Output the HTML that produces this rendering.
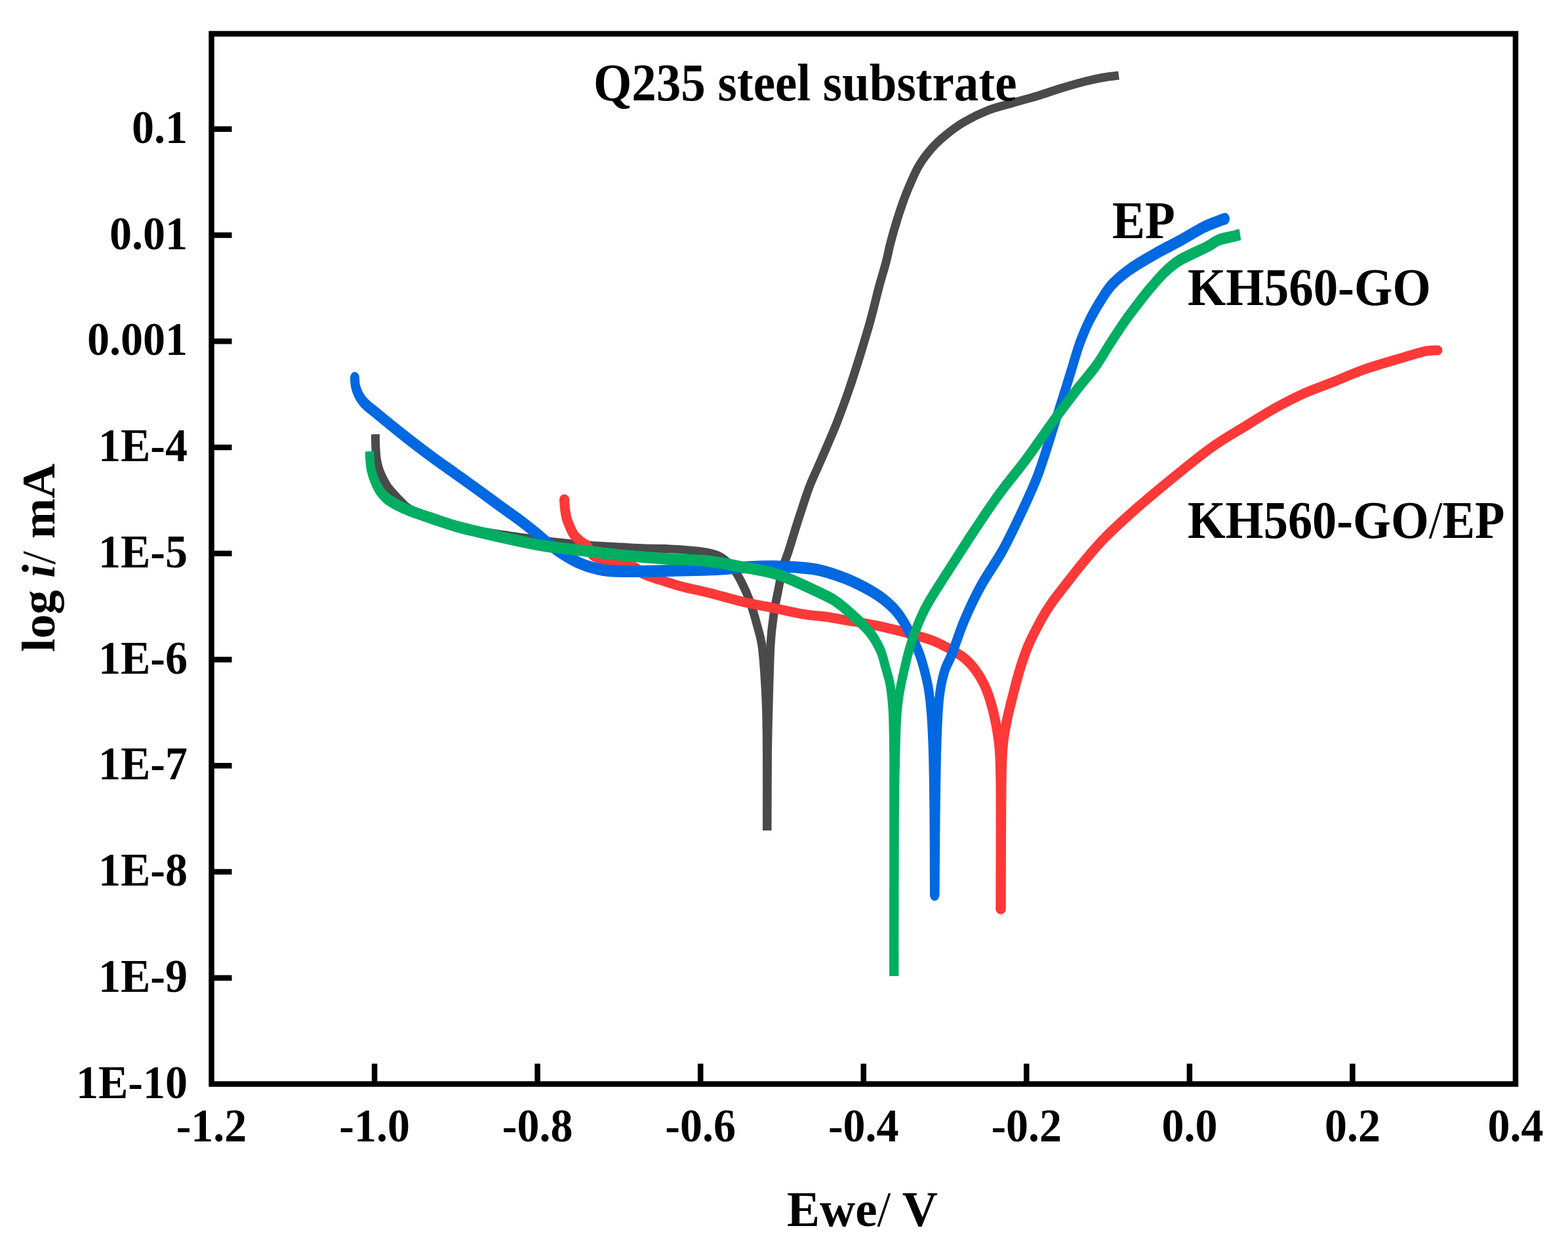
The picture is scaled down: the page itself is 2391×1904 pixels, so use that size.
<!DOCTYPE html>
<html><head><meta charset="utf-8"><title>Polarization curves</title>
<style>html,body{margin:0;padding:0;background:#fff;}body{width:2391px;height:1904px;overflow:hidden;}svg{display:block;}</style>
</head><body>
<svg xmlns="http://www.w3.org/2000/svg" width="2391" height="1904" viewBox="0 0 2391 1904">
<rect width="2391" height="1904" fill="#fff"/>
<path d="M572.4,662.0 C572.5,665.0 572.5,674.2 572.8,680.0 C573.1,685.8 573.3,691.7 574.0,697.0 C574.7,702.3 575.8,707.6 577.0,712.0 C578.2,716.4 579.1,718.8 581.2,723.5 C583.4,728.2 586.6,735.0 589.9,740.0 C593.2,745.0 597.3,749.3 601.0,753.5 C604.7,757.7 608.0,761.2 612.0,765.0 C616.0,768.8 617.0,772.0 625.0,776.0 C633.0,780.0 648.3,784.9 660.0,789.0 C671.7,793.1 683.3,797.2 695.0,800.5 C706.7,803.8 718.3,806.6 730.0,809.0 C741.7,811.4 753.3,813.2 765.0,815.0 C776.7,816.8 787.0,818.2 800.0,820.0 C813.0,821.8 826.2,824.1 843.0,826.0 C859.8,827.9 883.7,830.2 901.0,831.5 C918.3,832.8 933.3,833.2 947.0,834.0 C960.7,834.8 971.5,835.6 983.0,836.0 C994.5,836.4 1002.7,835.8 1016.0,836.5 C1029.3,837.2 1049.8,838.2 1063.0,840.0 C1076.2,841.8 1086.2,843.0 1095.0,847.0 C1103.8,851.0 1110.0,857.2 1116.0,864.0 C1122.0,870.8 1126.3,879.0 1131.0,888.0 C1135.7,897.0 1140.0,906.8 1144.0,918.0 C1148.0,929.2 1152.0,943.8 1155.0,955.0 C1158.0,966.2 1160.2,972.5 1162.0,985.0 C1163.8,997.5 1164.9,1014.2 1166.0,1030.0 C1167.1,1045.8 1167.9,1060.0 1168.5,1080.0 C1169.1,1100.0 1169.3,1119.0 1169.5,1150.0 C1169.7,1181.0 1169.5,1246.7 1169.5,1266.0" fill="none" stroke="#4a4a4a" stroke-width="13" stroke-linejoin="round" stroke-linecap="butt"/>
<path d="M1170.0,1266.0 C1170.1,1246.7 1170.2,1181.7 1170.5,1150.0 C1170.8,1118.3 1171.2,1103.8 1172.0,1076.0 C1172.8,1048.2 1173.7,1006.3 1175.0,983.0 C1176.3,959.7 1178.1,949.7 1180.0,936.0 C1181.9,922.3 1184.2,912.6 1186.5,901.0 C1188.8,889.4 1190.8,876.9 1193.5,866.5 C1196.2,856.1 1199.8,848.6 1203.0,838.5 C1206.2,828.4 1209.7,816.6 1213.0,806.0 C1216.3,795.4 1219.3,786.0 1223.0,775.0 C1226.7,764.0 1230.1,752.5 1235.0,740.0 C1239.9,727.5 1245.7,715.9 1252.5,700.0 C1259.3,684.1 1268.9,662.6 1276.0,644.6 C1283.1,626.6 1289.3,609.4 1295.3,592.0 C1301.3,574.6 1306.6,557.5 1312.0,540.0 C1317.4,522.5 1322.9,504.5 1327.7,487.0 C1332.5,469.5 1337.1,449.5 1341.0,435.0 C1344.9,420.5 1348.2,410.8 1351.0,400.0 C1353.8,389.2 1355.2,380.8 1358.0,370.0 C1360.8,359.2 1364.8,345.3 1368.0,335.0 C1371.2,324.7 1374.0,316.3 1377.0,308.0 C1380.0,299.7 1382.0,294.2 1386.0,285.0 C1390.0,275.8 1395.3,262.7 1401.0,253.0 C1406.7,243.3 1413.2,234.8 1420.0,227.0 C1426.8,219.2 1433.7,212.8 1442.0,206.0 C1450.3,199.2 1459.2,192.3 1470.0,186.0 C1480.8,179.7 1494.7,172.8 1507.0,168.0 C1519.3,163.2 1531.7,160.6 1544.0,157.0 C1556.3,153.4 1568.7,150.2 1581.0,146.5 C1593.3,142.8 1605.7,138.2 1618.0,134.5 C1630.3,130.8 1644.2,126.8 1655.0,124.0 C1665.8,121.2 1674.5,119.5 1683.0,118.0 C1691.5,116.5 1702.2,115.5 1706.0,115.0" fill="none" stroke="#4a4a4a" stroke-width="13" stroke-linejoin="round" stroke-linecap="butt"/>
<path d="M860.5,761.0 C860.7,763.3 860.9,770.2 861.5,775.0 C862.1,779.8 863.0,786.0 864.0,790.0 C865.0,794.0 865.7,795.0 867.4,799.0 C869.1,803.0 871.5,809.7 874.4,814.0 C877.3,818.3 881.3,821.8 884.8,824.8 C888.3,827.8 891.8,828.1 895.3,832.0 C898.8,835.9 900.5,844.2 906.0,848.0 C911.5,851.8 920.4,852.5 928.5,854.5 C936.6,856.5 947.8,857.9 954.7,859.8 C961.6,861.7 965.6,863.5 970.0,866.0 C974.4,868.5 974.8,872.0 981.0,875.0 C987.2,878.0 996.8,880.9 1007.0,884.2 C1017.2,887.5 1029.8,891.5 1042.0,894.7 C1054.2,897.9 1064.8,899.7 1080.0,903.5 C1095.2,907.3 1116.3,913.6 1133.0,917.5 C1149.7,921.4 1164.5,923.9 1180.0,927.0 C1195.5,930.1 1213.0,934.2 1226.0,936.4 C1239.0,938.6 1247.3,938.5 1258.0,940.0 C1268.7,941.5 1280.5,943.9 1290.0,945.5 C1299.5,947.1 1305.0,947.8 1315.0,949.6 C1325.0,951.5 1338.3,954.0 1350.0,956.6 C1361.7,959.2 1373.3,962.1 1385.0,965.3 C1396.7,968.5 1409.8,972.0 1420.0,975.8 C1430.2,979.6 1437.8,983.6 1446.0,988.0 C1454.2,992.4 1462.3,996.8 1469.0,1002.0 C1475.7,1007.2 1480.8,1012.8 1486.0,1019.5 C1491.2,1026.2 1496.0,1033.9 1500.0,1042.0 C1504.0,1050.1 1507.0,1058.3 1510.0,1068.0 C1513.0,1077.7 1515.7,1088.0 1518.0,1100.0 C1520.3,1112.0 1522.7,1123.3 1524.0,1140.0 C1525.3,1156.7 1525.7,1159.0 1526.0,1200.0 C1526.3,1241.0 1526.0,1355.0 1526.0,1386.0" fill="none" stroke="#ff3838" stroke-width="15" stroke-linejoin="round" stroke-linecap="round"/>
<path d="M1526.0,1386.0 C1526.2,1355.0 1526.5,1241.0 1527.0,1200.0 C1527.5,1159.0 1527.7,1156.7 1529.0,1140.0 C1530.3,1123.3 1532.4,1113.3 1535.0,1100.0 C1537.6,1086.7 1541.2,1073.2 1544.5,1060.0 C1547.8,1046.8 1551.1,1033.7 1555.0,1021.0 C1558.9,1008.3 1562.6,996.7 1568.0,984.0 C1573.4,971.3 1581.7,955.7 1587.5,945.0 C1593.3,934.3 1597.2,928.3 1603.0,920.0 C1608.8,911.7 1613.8,905.5 1622.0,895.0 C1630.2,884.5 1641.3,869.8 1652.0,857.0 C1662.7,844.2 1671.8,832.8 1686.0,818.5 C1700.2,804.2 1719.4,786.9 1737.0,771.5 C1754.6,756.1 1772.8,741.1 1791.5,726.0 C1810.2,710.9 1830.9,693.8 1849.0,681.0 C1867.1,668.2 1884.1,658.8 1900.0,649.0 C1915.9,639.2 1929.7,630.2 1944.5,622.0 C1959.3,613.8 1974.2,606.2 1989.0,599.5 C2003.8,592.8 2018.8,587.9 2033.6,582.0 C2048.4,576.1 2063.2,569.3 2078.0,564.0 C2092.8,558.7 2107.7,554.5 2122.6,550.0 C2137.5,545.5 2157.6,539.6 2167.2,537.0 C2176.8,534.4 2175.9,535.0 2180.0,534.5 C2184.1,534.0 2190.0,534.1 2192.0,534.0" fill="none" stroke="#ff3838" stroke-width="15" stroke-linejoin="round" stroke-linecap="round"/>
<g transform="scale(0.7800,1)"><path d="M693.6,576.0 C693.8,578.0 693.8,584.0 694.9,588.0 C695.9,592.0 697.9,596.3 700.0,600.0 C702.1,603.7 704.7,606.9 707.7,610.0 C710.7,613.1 713.5,615.3 717.9,618.5 C722.4,621.7 728.2,624.9 734.6,629.0 C741.0,633.1 745.3,636.0 756.4,643.0 C767.5,650.0 786.3,661.9 801.3,671.0 C816.2,680.1 831.2,688.9 846.2,697.5 C861.1,706.1 876.1,714.2 891.0,722.5 C906.0,730.8 921.6,739.4 935.9,747.5 C950.2,755.6 964.1,763.8 976.9,771.0 C989.7,778.2 1001.5,784.4 1012.8,791.0 C1024.1,797.6 1032.1,802.5 1044.9,810.5 C1057.7,818.5 1074.8,830.9 1089.7,839.0 C1104.7,847.1 1119.7,854.0 1134.6,859.0 C1149.6,864.0 1164.5,867.0 1179.5,869.0 C1194.4,871.0 1207.3,870.8 1224.4,871.0 C1241.5,871.2 1259.0,870.8 1282.1,870.5 C1305.1,870.2 1341.5,869.5 1362.8,869.0 C1384.2,868.5 1395.5,868.2 1410.3,867.5 C1425.0,866.8 1433.1,865.7 1451.3,865.0 C1469.4,864.3 1496.8,863.1 1519.2,863.4 C1541.7,863.7 1567.3,864.9 1585.9,866.9 C1604.5,868.9 1615.8,871.8 1630.8,875.6 C1645.7,879.4 1660.7,883.9 1675.6,889.6 C1690.6,895.3 1707.5,902.4 1720.5,909.7 C1733.5,917.0 1744.4,924.6 1753.8,933.3 C1763.2,942.0 1770.0,952.0 1776.9,962.0 C1783.9,972.0 1790.7,983.4 1795.6,993.0 C1800.6,1002.6 1803.1,1009.8 1806.4,1019.5 C1809.7,1029.2 1813.0,1039.9 1815.4,1051.0 C1817.7,1062.1 1819.0,1069.5 1820.5,1086.0 C1822.0,1102.5 1823.4,1122.7 1824.4,1150.0 C1825.3,1177.3 1825.9,1214.3 1826.3,1250.0 C1826.7,1285.7 1826.8,1345.0 1826.9,1364.0" fill="none" stroke="#0068e0" stroke-width="18" stroke-linejoin="round" stroke-linecap="round"/></g>
<g transform="scale(0.7800,1)"><path d="M1827.6,1364.0 C1827.8,1345.0 1828.3,1285.7 1828.8,1250.0 C1829.4,1214.3 1829.9,1177.3 1830.8,1150.0 C1831.6,1122.7 1832.7,1102.5 1834.0,1086.0 C1835.3,1069.5 1836.2,1061.8 1838.5,1051.0 C1840.7,1040.2 1843.7,1030.0 1847.4,1021.0 C1851.2,1012.0 1854.6,1009.7 1861.0,997.0 C1867.4,984.3 1876.2,962.1 1885.8,944.6 C1895.3,927.1 1905.9,909.7 1918.2,892.2 C1930.5,874.7 1947.1,857.3 1959.6,839.8 C1972.1,822.3 1982.6,804.9 1993.2,787.4 C2003.8,769.9 2015.7,749.6 2023.5,735.0 C2031.2,720.4 2033.3,715.1 2039.7,700.0 C2046.2,684.9 2054.9,662.6 2062.2,644.6 C2069.5,626.6 2077.8,606.3 2083.5,592.2 C2089.1,578.1 2091.6,571.5 2096.2,560.0 C2100.7,548.5 2105.5,534.8 2111.0,523.0 C2116.6,511.2 2122.5,500.0 2129.5,489.0 C2136.5,478.0 2145.4,466.2 2152.8,457.0 C2160.2,447.8 2164.5,441.7 2173.7,434.0 C2182.9,426.3 2194.1,418.8 2208.1,411.0 C2222.0,403.2 2240.7,394.9 2257.3,387.5 C2273.9,380.1 2291.8,373.3 2307.7,366.5 C2323.6,359.7 2340.2,351.4 2352.6,346.5 C2365.0,341.6 2375.0,339.2 2382.1,337.0 C2389.1,334.8 2392.7,334.1 2394.9,333.5" fill="none" stroke="#0068e0" stroke-width="18" stroke-linejoin="round" stroke-linecap="round"/></g>
<g transform="scale(0.7800,1)"><path d="M722.4,688.0 C722.5,690.0 722.5,695.3 723.1,700.0 C723.6,704.7 724.1,710.7 725.6,716.0 C727.1,721.3 729.3,726.7 732.1,732.0 C734.8,737.3 738.2,743.3 742.3,748.0 C746.4,752.7 750.6,756.3 756.4,760.0 C762.2,763.7 769.5,766.9 776.9,770.0 C784.4,773.1 789.5,775.0 801.0,778.5 C812.5,782.0 831.0,786.8 845.9,790.7 C860.8,794.6 875.7,798.8 890.6,802.1 C905.6,805.5 920.6,808.0 935.5,810.8 C950.4,813.6 965.2,816.4 980.3,819.0 C995.3,821.6 1011.2,824.2 1025.6,826.5 C1040.0,828.8 1048.5,830.4 1066.7,832.5 C1084.8,834.6 1108.3,836.6 1134.6,839.0 C1160.9,841.4 1194.4,844.8 1224.4,847.0 C1254.3,849.2 1287.4,851.1 1314.1,852.5 C1340.8,853.9 1361.8,853.5 1384.6,855.5 C1407.5,857.5 1428.8,860.9 1451.3,864.3 C1473.7,867.6 1496.8,870.1 1519.2,875.6 C1541.7,881.1 1567.3,890.9 1585.9,897.5 C1604.5,904.1 1617.7,908.6 1630.8,915.0 C1643.8,921.4 1652.8,928.0 1664.1,935.9 C1675.4,943.8 1689.3,953.1 1698.7,962.1 C1708.1,971.1 1715.2,981.0 1720.5,990.0 C1725.9,999.0 1727.6,1007.3 1730.8,1016.0 C1734.0,1024.7 1737.5,1033.3 1739.7,1042.0 C1742.0,1050.7 1743.0,1059.6 1744.1,1068.4 C1745.2,1077.2 1745.6,1081.0 1746.2,1094.6 C1746.7,1108.2 1747.2,1124.1 1747.4,1150.0 C1747.6,1175.9 1747.4,1193.7 1747.4,1250.0 C1747.4,1306.3 1747.4,1448.3 1747.4,1488.0" fill="none" stroke="#00ae62" stroke-width="17.5" stroke-linejoin="round" stroke-linecap="butt"/></g>
<g transform="scale(0.7800,1)"><path d="M1748.1,1488.0 C1748.2,1448.3 1748.3,1306.3 1748.7,1250.0 C1749.1,1193.7 1749.9,1175.9 1750.6,1150.0 C1751.4,1124.1 1751.9,1109.6 1753.1,1094.6 C1754.3,1079.5 1755.4,1071.3 1757.7,1059.7 C1760.0,1048.1 1763.3,1036.4 1766.7,1024.7 C1770.0,1013.1 1773.9,1000.2 1777.7,989.8 C1781.5,979.4 1784.9,971.4 1789.4,962.1 C1793.8,952.8 1799.2,942.6 1804.6,933.9 C1810.0,925.2 1811.8,922.5 1821.8,909.7 C1831.8,896.9 1850.1,874.8 1864.5,857.3 C1878.9,839.8 1893.1,822.3 1908.1,804.8 C1923.0,787.3 1937.7,769.9 1954.1,752.4 C1970.5,734.9 1989.2,718.0 2006.3,700.0 C2023.4,682.0 2039.9,662.6 2056.7,644.6 C2073.5,626.6 2092.8,606.6 2107.1,592.2 C2121.3,577.8 2131.7,569.5 2142.3,558.0 C2152.9,546.5 2161.0,534.7 2170.8,523.0 C2180.5,511.3 2190.7,499.0 2200.6,488.0 C2210.6,477.0 2222.1,465.5 2230.5,457.0 C2239.0,448.5 2243.3,444.2 2251.3,437.0 C2259.2,429.8 2268.8,420.8 2278.2,414.0 C2287.6,407.2 2294.2,402.2 2307.7,396.0 C2321.2,389.8 2346.6,381.5 2359.0,376.5 C2371.4,371.5 2373.1,368.8 2382.1,366.0 C2391.0,363.2 2405.8,361.4 2412.8,360.0 C2419.9,358.6 2422.4,357.9 2424.4,357.5" fill="none" stroke="#00ae62" stroke-width="17.5" stroke-linejoin="round" stroke-linecap="butt"/></g>
<rect x="322.5" y="51.5" width="1988.5" height="1601.0" fill="none" stroke="#000" stroke-width="8.5"/>
<path d="M571.1,1652.5 V1621.5 M819.6,1652.5 V1621.5 M1068.2,1652.5 V1621.5 M1316.8,1652.5 V1621.5 M1565.3,1652.5 V1621.5 M1813.9,1652.5 V1621.5 M2062.4,1652.5 V1621.5 M322.5,196.8 H353.5 M322.5,358.5 H353.5 M322.5,520.3 H353.5 M322.5,682.0 H353.5 M322.5,843.8 H353.5 M322.5,1005.5 H353.5 M322.5,1167.3 H353.5 M322.5,1329.0 H353.5 M322.5,1490.8 H353.5" stroke="#000" stroke-width="8.5" fill="none"/>
<g font-family="Liberation Serif, serif" font-weight="bold" fill="#000">
<text transform="translate(286.0,217.8) scale(1,1.050)" font-size="68" text-anchor="end">0.1</text>
<text transform="translate(286.0,379.5) scale(1,1.050)" font-size="68" text-anchor="end">0.01</text>
<text transform="translate(286.0,541.3) scale(1,1.050)" font-size="68" text-anchor="end">0.001</text>
<text transform="translate(286.0,703.0) scale(1,1.050)" font-size="68" text-anchor="end">1E-4</text>
<text transform="translate(286.0,864.8) scale(1,1.050)" font-size="68" text-anchor="end">1E-5</text>
<text transform="translate(286.0,1026.5) scale(1,1.050)" font-size="68" text-anchor="end">1E-6</text>
<text transform="translate(286.0,1188.3) scale(1,1.050)" font-size="68" text-anchor="end">1E-7</text>
<text transform="translate(286.0,1350.0) scale(1,1.050)" font-size="68" text-anchor="end">1E-8</text>
<text transform="translate(286.0,1511.8) scale(1,1.050)" font-size="68" text-anchor="end">1E-9</text>
<text transform="translate(286.0,1673.5) scale(1,1.050)" font-size="68" text-anchor="end">1E-10</text>
<text transform="translate(322.5,1740.0) scale(1,1.050)" font-size="68" text-anchor="middle">-1.2</text>
<text transform="translate(571.1,1740.0) scale(1,1.050)" font-size="68" text-anchor="middle">-1.0</text>
<text transform="translate(819.6,1740.0) scale(1,1.050)" font-size="68" text-anchor="middle">-0.8</text>
<text transform="translate(1068.2,1740.0) scale(1,1.050)" font-size="68" text-anchor="middle">-0.6</text>
<text transform="translate(1316.8,1740.0) scale(1,1.050)" font-size="68" text-anchor="middle">-0.4</text>
<text transform="translate(1565.3,1740.0) scale(1,1.050)" font-size="68" text-anchor="middle">-0.2</text>
<text transform="translate(1813.9,1740.0) scale(1,1.050)" font-size="68" text-anchor="middle">0.0</text>
<text transform="translate(2062.4,1740.0) scale(1,1.050)" font-size="68" text-anchor="middle">0.2</text>
<text transform="translate(2311.0,1740.0) scale(1,1.050)" font-size="68" text-anchor="middle">0.4</text>
<text transform="translate(905.0,153.0) scale(1,1.060)" font-size="75">Q235 steel substrate</text>
<text transform="translate(1696.0,363.0) scale(1,1.060)" font-size="75">EP</text>
<text transform="translate(1811.0,465.0) scale(1,1.060)" font-size="75">KH560-GO</text>
<text transform="translate(1811.0,820.0) scale(1,1.060)" font-size="75" textLength="483.5" lengthAdjust="spacingAndGlyphs">KH560-GO<tspan font-weight="normal">/</tspan>EP</text>
<text transform="translate(1200.0,1869.0) scale(1,1.020)" font-size="75">Ewe<tspan font-weight="normal">/</tspan> V</text>
<text transform="translate(83,994) rotate(-90) scale(1,0.980)" font-size="74">log <tspan font-style="italic">i</tspan><tspan font-weight="normal">/</tspan> mA</text>
</g>
</svg>
</body></html>
